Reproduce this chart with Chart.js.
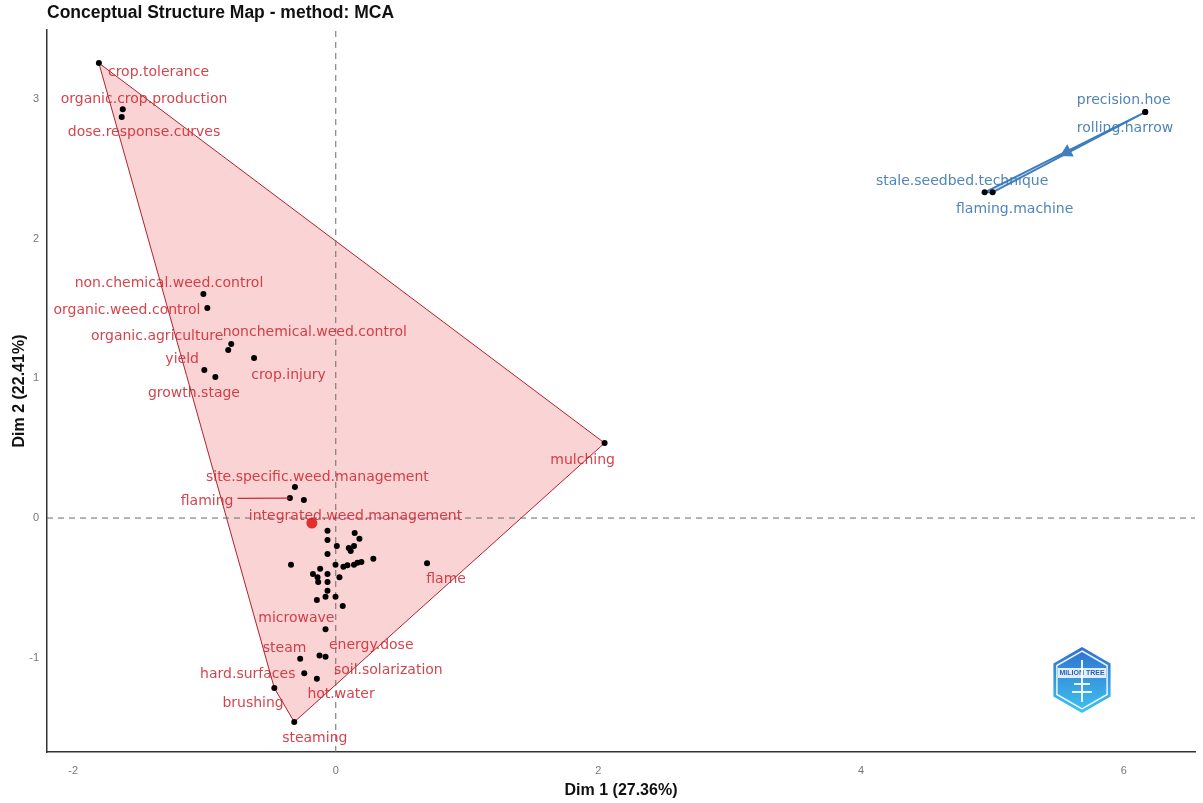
<!DOCTYPE html>
<html>
<head>
<meta charset="utf-8">
<script src="https://cdn.jsdelivr.net/npm/chart.js@4.4.1/dist/chart.umd.min.js"></script>
<style>
  html, body { margin: 0; background: #fff; overflow: hidden; }
  #wrap { width: 1203px; height: 803px; }
</style>
</head>
<body>
<div id="wrap"><canvas id="map"></canvas></div>
<script>
// cluster 1 (red) word coordinates
const redX = [-1.804, -1.622, -1.630, -1.008, -0.978, -0.796, -0.819, -0.622, -1.001, -0.917,
  2.047, -0.311, -0.349, -0.243, -0.063, -0.063, 0.008, -0.063, 0.144, 0.180,
  0.099, 0.139, 0.114, 0.286, -0.002, 0.058, 0.089, 0.139, 0.165, 0.195,
  -0.341, 0.695, -0.119, -0.174, -0.139, -0.063, 0.028, -0.063, -0.134, -0.063,
  -0.078, -0.002, -0.144, 0.053, -0.078, -0.271, -0.124, -0.078, -0.240, -0.144,
  -0.468, -0.316];
const redY = [3.259, 2.929, 2.872, 1.605, 1.504, 1.246, 1.203, 1.146, 1.060, 1.010,
  0.537, 0.222, 0.143, 0.129, -0.091, -0.158, -0.201, -0.258, -0.107, -0.148,
  -0.215, -0.201, -0.236, -0.292, -0.335, -0.349, -0.339, -0.335, -0.320, -0.315,
  -0.335, -0.324, -0.363, -0.401, -0.425, -0.401, -0.425, -0.458, -0.458, -0.521,
  -0.564, -0.564, -0.587, -0.630, -0.797, -1.008, -0.984, -0.994, -1.112, -1.151,
  -1.218, -1.461];

// cluster 2 (blue) word coordinates
const blueX = [6.164, 6.164, 4.941, 5.002];
const blueY = [2.908, 2.908, 2.333, 2.333];

// cluster centroids
const centroidX = [-0.182, 5.568];
const centroidY = [-0.036, 2.621];

// convex hulls
const redHullX = [-1.804, 2.047, -0.316, -0.468, -1.804];
const redHullY = [3.259, 0.537, -1.461, -1.218, 3.259];
const blueHullX = [6.164, 4.941, 5.002, 6.164];
const blueHullY = [2.908, 2.333, 2.333, 2.908];

// word labels
const redLabels = ["crop.tolerance", "organic.crop.production", "dose.response.curves",
  "non.chemical.weed.control", "organic.weed.control", "organic.agriculture",
  "nonchemical.weed.control", "yield", "crop.injury", "growth.stage", "mulching",
  "site.specific.weed.management", "flaming", "integrated.weed.management", "flame",
  "microwave", "energy.dose", "steam", "soil.solarization", "hard.surfaces",
  "hot.water", "brushing", "steaming"];
const redLabelX = [-1.35, -1.46, -1.46, -1.27, -1.59, -1.36, -0.16, -1.17, -0.36, -1.08, 1.88,
  -0.14, -0.98, 0.15, 0.84, -0.30, 0.27, -0.39, 0.40, -0.67, 0.04, -0.63, -0.16];
const redLabelY = [3.19, 3.00, 2.76, 1.68, 1.49, 1.30, 1.33, 1.14, 1.02, 0.89, 0.41,
  0.29, 0.12, 0.01, -0.44, -0.72, -0.91, -0.93, -1.09, -1.12, -1.26, -1.33, -1.58];

const blueLabels = ["precision.hoe", "rolling.harrow", "stale.seedbed.technique", "flaming.machine"];
const blueLabelX = [6.00, 6.01, 4.77, 5.17];
const blueLabelY = [2.99, 2.79, 2.41, 2.21];

const xMin = -2.199, xMax = 6.543;
const yMin = -1.676, yMax = 3.496;

const RED_TEXT = "rgba(205,35,45,0.85)";
const BLUE_TEXT = "rgba(60,120,175,0.9)";
const SANS = "'Liberation Sans', Arial, sans-serif";

function pts(xs, ys) {
  return xs.map((x, i) => ({ x: x, y: ys[i] }));
}

// text labels, the flaming leader line and the logo
const labelPlugin = {
  id: "labels",
  afterDatasetsDraw(chart) {
    const ctx = chart.ctx;
    const xs = chart.scales.x, ys = chart.scales.y;
    ctx.save();
    ctx.font = "14px 'DejaVu Sans', Verdana, sans-serif";
    ctx.textAlign = "center";
    ctx.textBaseline = "middle";

    // leader line for "flaming"
    const fi = redLabels.indexOf("flaming");
    const lw = ctx.measureText("flaming").width;
    ctx.strokeStyle = "rgba(190,30,40,0.9)";
    ctx.lineWidth = 1.2;
    ctx.beginPath();
    ctx.moveTo(xs.getPixelForValue(redLabelX[fi]) + lw / 2 + 4, ys.getPixelForValue(redLabelY[fi]) - 3);
    ctx.lineTo(xs.getPixelForValue(-0.349), ys.getPixelForValue(0.143));
    ctx.stroke();

    ctx.fillStyle = RED_TEXT;
    redLabels.forEach((t, i) => {
      ctx.fillText(t, xs.getPixelForValue(redLabelX[i]), ys.getPixelForValue(redLabelY[i]));
    });
    ctx.fillStyle = BLUE_TEXT;
    blueLabels.forEach((t, i) => {
      ctx.fillText(t, xs.getPixelForValue(blueLabelX[i]), ys.getPixelForValue(blueLabelY[i]));
    });

    // logo (hexagon badge, bottom right)
    const cx = 1082, cy = 680, r = 33;
    const hex = (rad) => {
      ctx.beginPath();
      for (let k = 0; k < 6; k++) {
        const a = k * Math.PI / 3 - Math.PI / 2;
        const px = cx + rad * Math.cos(a), py = cy + rad * Math.sin(a);
        if (k === 0) ctx.moveTo(px, py); else ctx.lineTo(px, py);
      }
      ctx.closePath();
    };
    const g = ctx.createLinearGradient(cx, cy - r, cx, cy + r);
    g.addColorStop(0, "#2f6fd0");
    g.addColorStop(1, "#3ec3ee");
    hex(r);
    ctx.fillStyle = g;
    ctx.fill();
    hex(r - 4);
    ctx.strokeStyle = "rgba(255,255,255,0.9)";
    ctx.lineWidth = 1.5;
    ctx.stroke();
    ctx.fillStyle = "rgba(255,255,255,0.85)";
    ctx.fillRect(cx - 24, cy - 12, 48, 10);
    ctx.fillStyle = "#2a5fb8";
    ctx.font = "bold 7px " + SANS;
    ctx.fillText("MILION TREE", cx, cy - 7);
    ctx.strokeStyle = "rgba(255,255,255,0.9)";
    ctx.lineWidth = 2;
    ctx.beginPath();
    ctx.moveTo(cx, cy - 20); ctx.lineTo(cx, cy + 22);
    ctx.moveTo(cx - 8, cy + 4); ctx.lineTo(cx + 8, cy + 4);
    ctx.moveTo(cx - 10, cy + 12); ctx.lineTo(cx + 10, cy + 12);
    ctx.stroke();
    ctx.restore();
  }
};

new Chart(document.getElementById("map"), {
  type: "scatter",
  data: {
    datasets: [
      {
        label: "centroids",
        data: pts(centroidX, centroidY),
        pointStyle: ["circle", "triangle"],
        rotation: [0, 242],
        pointRadius: [5.5, 8],
        backgroundColor: ["#e3302f", "#3f7fbf"],
        borderColor: ["#e3302f", "#3f7fbf"],
        borderWidth: 0,
        order: 1
      },
      {
        label: "cluster 1",
        data: pts(redX, redY),
        pointRadius: 3,
        backgroundColor: "#000",
        borderWidth: 0,
        order: 2
      },
      {
        label: "cluster 2",
        data: pts(blueX, blueY),
        pointRadius: 3,
        backgroundColor: "#000",
        borderWidth: 0,
        order: 2
      },
      {
        label: "x zero",
        type: "line",
        data: [{ x: 0, y: yMin }, { x: 0, y: yMax }],
        borderColor: "#6a6a6a",
        borderWidth: 1,
        borderDash: [6, 5],
        pointRadius: 0,
        order: 5
      },
      {
        label: "y zero",
        type: "line",
        data: [{ x: xMin, y: 0 }, { x: xMax, y: 0 }],
        borderColor: "#6a6a6a",
        borderWidth: 1,
        borderDash: [6, 5],
        pointRadius: 0,
        order: 5
      },
      {
        label: "hull 2",
        type: "line",
        data: pts(blueHullX, blueHullY),
        borderColor: "#3d7dbd",
        backgroundColor: "rgba(70,130,190,0.25)",
        borderWidth: 1.8,
        pointRadius: 0,
        fill: "shape",
        tension: 0,
        order: 9
      },
      {
        label: "hull 1",
        type: "line",
        data: pts(redHullX, redHullY),
        borderColor: "#b0222c",
        backgroundColor: "rgba(240,120,125,0.33)",
        borderWidth: 1,
        pointRadius: 0,
        fill: "shape",
        tension: 0,
        order: 10
      }
    ]
  },
  options: {
    responsive: true,
    maintainAspectRatio: false,
    animation: false,
    layout: { padding: { left: 0, right: 3, top: 0, bottom: 0 } },
    plugins: {
      legend: { display: false },
      tooltip: { enabled: false },
      title: {
        display: true,
        text: "Conceptual Structure Map - method: MCA",
        align: "start",
        fullSize: false,
        color: "#111",
        font: { family: SANS, size: 17.5, weight: "bold", lineHeight: 1.2 },
        padding: { top: 3, bottom: 6 }
      }
    },
    scales: {
      x: {
        type: "linear",
        min: xMin,
        max: xMax,
        afterFit: (s) => { s.height = 51; },
        grid: { display: false, drawTicks: false },
        border: { display: true, color: "#333", width: 1.5 },
        ticks: {
          stepSize: 2,
          includeBounds: false,
          padding: 12,
          color: "#777",
          font: { family: SANS, size: 11 }
        },
        title: {
          display: true,
          text: "Dim 1 (27.36%)",
          color: "#111",
          font: { family: SANS, size: 16, weight: "bold" },
          padding: { top: 0, bottom: 3 }
        }
      },
      y: {
        type: "linear",
        min: yMin,
        max: yMax,
        afterFit: (s) => { s.width = 47; },
        grid: { display: false, drawTicks: false },
        border: { display: true, color: "#333", width: 1.5 },
        ticks: {
          stepSize: 1,
          includeBounds: false,
          padding: 8,
          color: "#777",
          font: { family: SANS, size: 11 }
        },
        title: {
          display: true,
          text: "Dim 2 (22.41%)",
          color: "#111",
          font: { family: SANS, size: 16, weight: "bold" },
          padding: { top: 10, bottom: 0 }
        }
      }
    }
  },
  plugins: [labelPlugin]
});
</script>
</body>
</html>
